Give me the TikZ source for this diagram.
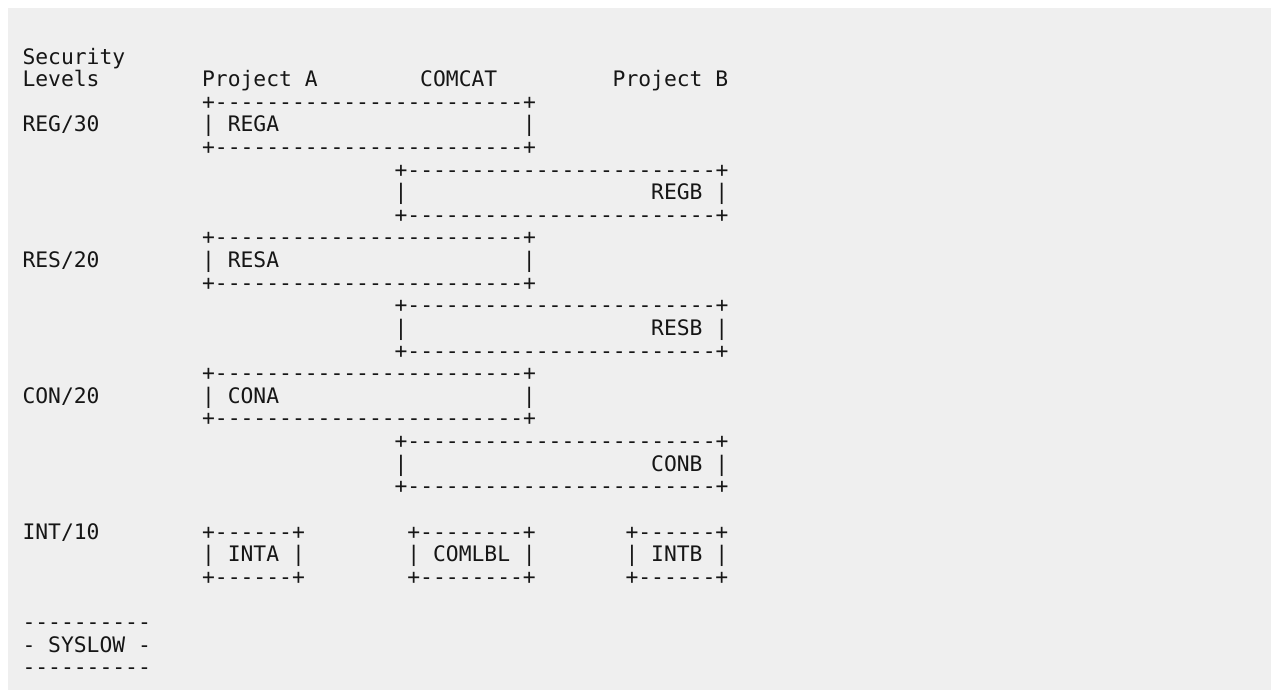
\documentclass[tikz,border=0pt]{standalone}
\usepackage{fontspec}
\setmonofont{DejaVu Sans Mono}
\definecolor{bggray}{HTML}{EFEFEF}
\definecolor{ink}{HTML}{161616}
\begin{document}
\begin{tikzpicture}[x=9.6225pt, y=-16.965pt,
    ascii/.style={anchor=base west, inner sep=0pt, outer sep=0pt, text=ink, font=\ttfamily\fontsize{16pt}{20pt}\selectfont}]

    \useasboundingbox (-16.875pt,31.035pt) rectangle (936.375pt,-486.465pt);
    \fill [white] (-16.875pt,31.035pt) rectangle (936.375pt,-486.465pt);
    \fill [bggray] (-10.875pt,25.035pt) rectangle (936.375pt,-486.465pt);

    \node [ascii] (sec) at (0,1) {Security};
    \node [ascii] (lev) at (0,2) {Levels};
    \node [ascii] (prja) at (14,2) {Project A};
    \node [ascii] (comcat) at (31,2) {COMCAT};
    \node [ascii] (prjb) at (46,2) {Project B};

    \node [ascii] (regatop) at (14,3) {+------------------------+};
    \node [ascii] (reglvl) at (0,4) {REG/30};
    \node [ascii] (rega) at (14,4) {| REGA};
    \node [ascii] (regaend) at (39,4) {|};
    \node [ascii] (regabot) at (14,5) {+------------------------+};
    \node [ascii] (regbtop) at (29,6) {+------------------------+};
    \node [ascii] (regbbeg) at (29,7) {|};
    \node [ascii] (regb) at (49,7) {REGB |};
    \node [ascii] (regbbot) at (29,8) {+------------------------+};

    \node [ascii] (resatop) at (14,9) {+------------------------+};
    \node [ascii] (reslvl) at (0,10) {RES/20};
    \node [ascii] (resa) at (14,10) {| RESA};
    \node [ascii] (resaend) at (39,10) {|};
    \node [ascii] (resabot) at (14,11) {+------------------------+};
    \node [ascii] (resbtop) at (29,12) {+------------------------+};
    \node [ascii] (resbbeg) at (29,13) {|};
    \node [ascii] (resb) at (49,13) {RESB |};
    \node [ascii] (resbbot) at (29,14) {+------------------------+};

    \node [ascii] (conatop) at (14,15) {+------------------------+};
    \node [ascii] (conlvl) at (0,16) {CON/20};
    \node [ascii] (cona) at (14,16) {| CONA};
    \node [ascii] (conaend) at (39,16) {|};
    \node [ascii] (conabot) at (14,17) {+------------------------+};
    \node [ascii] (conbtop) at (29,18) {+------------------------+};
    \node [ascii] (conbbeg) at (29,19) {|};
    \node [ascii] (conb) at (49,19) {CONB |};
    \node [ascii] (conbbot) at (29,20) {+------------------------+};

    \node [ascii] (intlvl) at (0,22) {INT/10};
    \node [ascii] (intatop) at (14,22) {+------+};
    \node [ascii] (comlbltop) at (30,22) {+--------+};
    \node [ascii] (intbtop) at (47,22) {+------+};
    \node [ascii] (inta) at (14,23) {| INTA |};
    \node [ascii] (comlbl) at (30,23) {| COMLBL |};
    \node [ascii] (intb) at (47,23) {| INTB |};
    \node [ascii] (intabot) at (14,24) {+------+};
    \node [ascii] (comlblbot) at (30,24) {+--------+};
    \node [ascii] (intbbot) at (47,24) {+------+};

    \node [ascii] (syslowtop) at (0,26) {----------};
    \node [ascii] (syslow) at (0,27) {- SYSLOW -};
    \node [ascii] (syslowbot) at (0,28) {----------};
\end{tikzpicture}
\end{document}
